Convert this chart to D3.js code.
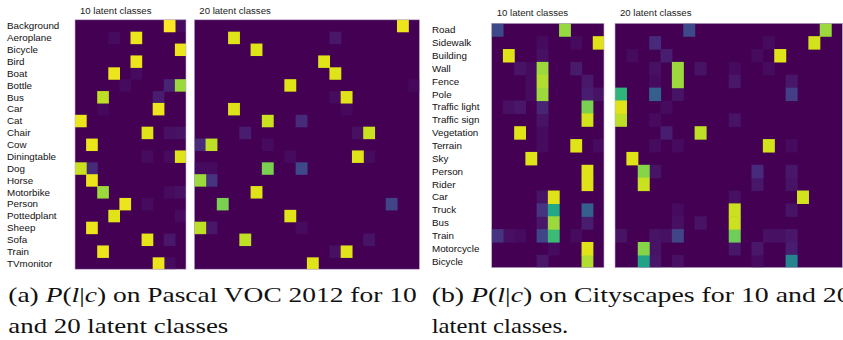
<!DOCTYPE html>
<html>
<head>
<meta charset="utf-8">
<script src="https://cdn.jsdelivr.net/npm/d3@7"></script>
<style>
  html, body { margin: 0; padding: 0; background: #fff; }
  svg { display: block; }
</style>
</head>
<body>
<svg id="chart" width="843" height="340"></svg>
<script>
// ---------------- DATA ----------------
const vocClasses = ["Background","Aeroplane","Bicycle","Bird","Boat","Bottle","Bus","Car","Cat","Chair","Cow",
  "Diningtable","Dog","Horse","Motorbike","Person","Pottedplant","Sheep","Sofa","Train","TVmonitor"];
const cityClasses = ["Road","Sidewalk","Building","Wall","Fence","Pole","Traffic light","Traffic sign","Vegetation",
  "Terrain","Sky","Person","Rider","Car","Truck","Bus","Train","Motorcycle","Bicycle"];

const panelTitles = ["10 latent classes", "20 latent classes"];

// sparse rows: for each class, list of [latent class index, P(l|c)]
const voc10 = [
  [[8,1.0],[9,0.03]],
  [[5,0.97],[3,0.03]],
  [[9,0.97]],
  [[5,0.97]],
  [[3,0.97],[5,0.03]],
  [[9,0.85],[8,0.1],[4,0.03]],
  [[2,0.9],[7,0.08]],
  [[7,0.97],[2,0.02]],
  [[0,0.97]],
  [[6,0.95],[8,0.04],[9,0.05]],
  [[1,0.97]],
  [[9,0.95],[6,0.03],[8,0.03]],
  [[0,0.92],[1,0.12]],
  [[1,0.97]],
  [[2,0.85],[8,0.03],[9,0.04]],
  [[4,0.97],[6,0.03]],
  [[3,0.95],[9,0.03]],
  [[1,0.97]],
  [[6,0.96],[8,0.06]],
  [[2,0.97]],
  [[7,0.97],[8,0.03]]
];
const voc20 = [
  [[18,0.97]],
  [[3,0.95],[12,0.06]],
  [[5,0.95]],
  [[11,0.95]],
  [[12,0.95]],
  [[8,0.95],[19,0.02]],
  [[13,0.95],[12,0.03]],
  [[3,0.95],[13,0.02]],
  [[6,0.92],[9,0.12]],
  [[15,0.92],[4,0.08],[14,0.04]],
  [[1,0.9],[0,0.12],[6,0.03]],
  [[14,0.95],[8,0.03],[15,0.03]],
  [[6,0.8],[9,0.22],[0,0.03],[1,0.03]],
  [[0,0.85],[1,0.15]],
  [[5,0.95]],
  [[2,0.8],[17,0.2]],
  [[8,0.95]],
  [[0,0.9],[1,0.06],[9,0.03]],
  [[4,0.9],[15,0.05]],
  [[13,0.95],[12,0.04]],
  [[10,0.95]]
];
const city10 = [
  [[0,0.22],[6,0.84]],
  [[9,0.95],[4,0.03],[7,0.03]],
  [[1,0.95],[4,0.04]],
  [[4,0.85],[2,0.05],[7,0.07],[3,0.03]],
  [[4,0.88],[8,0.06],[3,0.03]],
  [[4,0.85],[8,0.08],[9,0.05],[3,0.03]],
  [[8,0.8],[4,0.1],[1,0.04],[2,0.06]],
  [[8,0.93],[4,0.05]],
  [[2,0.95],[4,0.03]],
  [[7,0.95],[4,0.03],[9,0.03]],
  [[3,0.95]],
  [[8,0.95]],
  [[8,0.95]],
  [[5,0.95],[4,0.05]],
  [[5,0.6],[4,0.15],[8,0.3]],
  [[5,0.85],[4,0.06],[8,0.08]],
  [[5,0.68],[4,0.2],[0,0.15],[1,0.04],[2,0.03],[7,0.03]],
  [[8,0.95],[5,0.03]],
  [[8,0.88],[4,0.06]]
];
const city20 = [
  [[6,0.22],[18,0.85]],
  [[17,0.93],[3,0.12],[13,0.03]],
  [[14,0.95],[4,0.08],[1,0.03],[12,0.03]],
  [[5,0.85],[3,0.04],[7,0.05],[10,0.03],[13,0.03]],
  [[5,0.85],[10,0.06],[15,0.06],[3,0.03]],
  [[0,0.65],[3,0.3],[15,0.18],[5,0.05]],
  [[0,0.95],[4,0.03]],
  [[0,0.9],[10,0.05],[3,0.03]],
  [[7,0.9],[4,0.08]],
  [[13,0.93],[3,0.03],[5,0.03],[15,0.03]],
  [[1,0.95]],
  [[2,0.82],[3,0.05],[12,0.12],[15,0.06]],
  [[2,0.92],[12,0.06],[15,0.05]],
  [[16,0.93],[10,0.04]],
  [[10,0.92],[15,0.05],[5,0.03]],
  [[10,0.92],[5,0.04],[7,0.05]],
  [[10,0.78],[5,0.2],[0,0.05],[3,0.05],[4,0.04],[13,0.04],[14,0.04],[15,0.06]],
  [[2,0.82],[3,0.05],[10,0.06],[12,0.06],[15,0.08]],
  [[2,0.58],[15,0.45],[3,0.06],[5,0.04],[12,0.03]]
];

// ---------------- DRAWING ----------------
const svg = d3.select("#chart");
const color = d3.scaleSequential(d3.interpolateViridis).domain([0, 1]);

function drawPanel(rows, classes, nLatent, x0, x1, y0, y1, title, titleY) {
  const x = d3.scaleBand().domain(d3.range(nLatent)).range([x0, x1]).padding(0);
  const y = d3.scaleBand().domain(d3.range(classes.length)).range([y0, y1]).padding(0);
  const g = svg.append("g");
  g.append("rect")
    .attr("x", x0).attr("y", y0).attr("width", x1 - x0).attr("height", y1 - y0)
    .attr("fill", color(0));
  const cells = [];
  rows.forEach((r, ri) => {
    r.forEach(([c, v]) => cells.push({ r: ri, c, v }));
  });
  cells.sort((a, b) => a.v - b.v);
  g.selectAll("rect.cell").data(cells).join("rect")
    .attr("class", "cell")
    .attr("x", d => x(d.c))
    .attr("y", d => y(d.r))
    .attr("width", d => Math.min(x.bandwidth() + 0.6, x1 - x(d.c)))
    .attr("height", d => Math.min(y.bandwidth() + 0.6, y1 - y(d.r)))
    .attr("fill", d => color(d.v));
  g.append("rect")
    .attr("x", x0).attr("y", y0).attr("width", x1 - x0).attr("height", y1 - y0)
    .attr("fill", "none").attr("stroke", "#bfb3cc").attr("stroke-width", 0.6);
  svg.append("text")
    .attr("x", x0 + 5).attr("y", titleY)
    .attr("font-family", "Liberation Sans, Arial, sans-serif")
    .attr("font-size", 9.6).attr("fill", "#222")
    .text(title);
  return y;
}

function drawLabels(classes, y, lx) {
  svg.append("g").selectAll("text").data(classes).join("text")
    .attr("x", lx)
    .attr("y", (d, i) => y(i) + y.bandwidth() / 2)
    .attr("dy", "0.36em")
    .attr("font-family", "Liberation Sans, Arial, sans-serif")
    .attr("font-size", 9.8).attr("fill", "#111")
    .text(d => d);
}

// Pascal VOC
const yA = drawPanel(voc10, vocClasses, 10, 75, 186, 19.8, 269.2, panelTitles[0], 14.2);
drawPanel(voc20, vocClasses, 20, 194.3, 419.5, 19.8, 269.2, panelTitles[1], 14.2);
drawLabels(vocClasses, yA, 7);

// Cityscapes
const yB = drawPanel(city10, cityClasses, 10, 491.7, 604, 23.3, 267.7, panelTitles[0], 16);
drawPanel(city20, cityClasses, 20, 615, 842.5, 23.3, 267.7, panelTitles[1], 16);
drawLabels(cityClasses, yB, 432);

// Captions
function caption(parts, x, yb, len) {
  const t = svg.append("text")
    .attr("x", x).attr("y", yb)
    .attr("font-family", "Liberation Serif, Times New Roman, serif")
    .attr("font-size", 21).attr("fill", "#111")
    .attr("textLength", len).attr("lengthAdjust", "spacingAndGlyphs")
    .attr("xml:space", "preserve");
  parts.forEach(([s, it]) => {
    t.append("tspan").attr("font-style", it ? "italic" : "normal").text(s);
  });
}
const capA1 = [["(a) ",0],["P",1],["(",0],["l",1],["|",0],["c",1],[") on Pascal VOC 2012 for 10",0]];
const capA2 = [["and 20 latent classes",0]];
const capB1 = [["(b) ",0],["P",1],["(",0],["l",1],["|",0],["c",1],[") on Cityscapes for 10 and 20",0]];
const capB2 = [["latent classes.",0]];
caption(capA1, 8.3, 301.7, 408.4);
caption(capA2, 8.3, 333, 220);
caption(capB1, 431.7, 301.7, 419);
caption(capB2, 431.7, 333, 136.6);
</script>
</body>
</html>
